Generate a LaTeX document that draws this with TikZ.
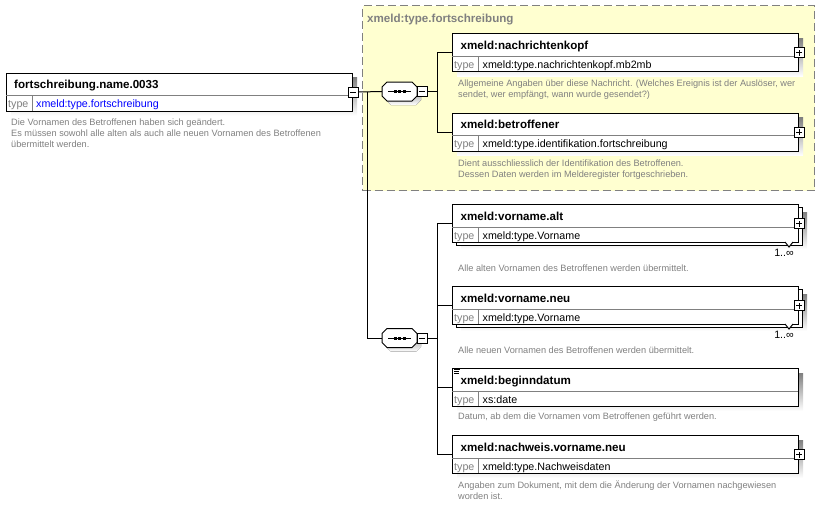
\documentclass[tikz,border=0pt]{standalone}
\usepackage{fontspec}
\setmainfont{Liberation Sans}
\usetikzlibrary{calc}
\definecolor{grpfill}{RGB}{255,255,208}
\definecolor{grpline}{RGB}{128,128,128}
\definecolor{shade}{RGB}{192,192,192}
\definecolor{desc}{RGB}{128,128,128}
\definecolor{typeblue}{RGB}{0,0,255}
\tikzset{
  elem/.style={draw=black, fill=white, line width=1pt, rectangle, minimum width=346pt, minimum height=38pt, inner sep=0pt, anchor=north west},
  group/.style={draw=grpline, fill=grpfill, line width=1pt, dash pattern=on 8pt off 4pt, rectangle, minimum width=452pt, minimum height=185pt, inner sep=0pt, anchor=north west},
  titletext/.style={font=\fontsize{11.6}{13}\selectfont\bfseries, anchor=base west, inner sep=0pt},
  grptitle/.style={font=\fontsize{11.6}{13}\selectfont\bfseries, text=grpline, anchor=base west, inner sep=0pt},
  typetext/.style={font=\fontsize{10.7}{12}\selectfont, anchor=base west, inner sep=0pt},
  typelabel/.style={font=\fontsize{10.7}{12}\selectfont, text=grpline, anchor=base west, inner sep=0pt},
  occtext/.style={font=\fontsize{10.7}{12}\selectfont, anchor=base east, inner sep=0pt},
  desctext/.style={font=\fontsize{9.2}{11}\selectfont, text=desc, anchor=base west, inner sep=0pt},
  pmbox/.style={draw=black, fill=white, line width=1pt, minimum size=10pt, inner sep=0pt, rectangle},
  conn/.style={line width=1pt, draw=black},
  seqbox/.style={rectangle, minimum width=35pt, minimum height=19pt, inner sep=0pt},
  divider/.style={draw=grpline, line width=1pt},
}
% plus / minus symbol boxes
\newcommand\pmplus[2]{%
  \node[pmbox] (#1) at (#2) {};
  \draw[line width=1pt] ([xshift=-3pt]#1.center) -- ([xshift=3pt]#1.center);
  \draw[line width=1pt] ([yshift=-3pt]#1.center) -- ([yshift=3pt]#1.center);
}
\newcommand\pmminus[2]{%
  \node[pmbox] (#1) at (#2) {};
  \draw[line width=1pt] ([xshift=-3pt]#1.center) -- ([xshift=3pt]#1.center);
}
% element box: name, x, ytop, title, type
\newcommand\elboxnoshadow[5]{%
  \node[elem] (#1) at (#2,#3) {};
  \draw[divider] (#2,#3+23) -- (#2+346,#3+23);
  \draw[divider] (#2+26.5,#3+23) -- (#2+26.5,#3+38);
  \node[titletext] (#1-t) at (#2+8.5,#3+16) {#4};
  \node[typelabel] (#1-l) at (#2+2,#3+35) {type};
  \node[typetext] (#1-v) at (#2+30.5,#3+35) {#5};
}
\newcommand\elbox[5]{%
  \fill[shade] (#2+5,#3+5) rectangle (#2+351,#3+43);
  \elboxnoshadow{#1}{#2}{#3}{#4}{#5}%
}
% repeated element box
\newcommand\multibox[5]{%
  \fill[shade] (#2+9,#3+8) rectangle (#2+355,#3+45);
  \draw[line width=1pt, fill=white] (#2+4,#3+3) rectangle (#2+350,#3+41);
  \elboxnoshadow{#1}{#2}{#3}{#4}{#5}%
  \draw[line width=1pt, fill=white] (#2+333,#3+38) -- (#2+337,#3+43) -- (#2+341,#3+38);
  \node[occtext] (#1-o) at (#2+342,#3+52) {1..∞};
}
% sequence compositor: name, cx, cy
\newcommand\seqsym[3]{%
  \node[seqbox] (#1) at (#2,#3) {};
  \fill[shade] (#2-12.5+4,#3-9.5+4) -- (#2+12.5+4,#3-9.5+4) -- (#2+17.5+4,#3-4.5+4) -- (#2+17.5+4,#3+4.5+4) -- (#2+12.5+4,#3+9.5+4) -- (#2-12.5+4,#3+9.5+4) -- (#2-17.5+4,#3+4.5+4) -- (#2-17.5+4,#3-4.5+4) -- cycle;
  \draw[line width=1pt, fill=white] (#2-12.5,#3-9.5) -- (#2+12.5,#3-9.5) -- (#2+17.5,#3-4.5) -- (#2+17.5,#3+4.5) -- (#2+12.5,#3+9.5) -- (#2-12.5,#3+9.5) -- (#2-17.5,#3+4.5) -- (#2-17.5,#3-4.5) -- cycle;
  \draw[line width=1pt] (#2-11.5,#3) -- (#2+11.5,#3);
  \fill (#2-6,#3-1.5) rectangle (#2-3,#3+1.5);
  \fill (#2-1.5,#3-1.5) rectangle (#2+1.5,#3+1.5);
  \fill (#2+3,#3-1.5) rectangle (#2+6,#3+1.5);
  \pmminus{#1m}{#2+22.5,#3}
}
\begin{document}
\begin{tikzpicture}[x=1pt, y=-1pt]
\useasboundingbox (0,0) rectangle (836,507);

% group
\node[group] (grp) at (362,5) {};
\node[grptitle] (grpt) at (367,22.5) {xmeld:type.fortschreibung};

% root element
\fill[shade] (11,77.5) rectangle (357,115.5);
\node[elem] (root) at (6,72.5) {};
\draw[divider] (6,95.5) -- (352,95.5);
\draw[divider] (32.5,95.5) -- (32.5,110.5);
\node[titletext] (root-t) at (14,88.5) {fortschreibung.name.0033};
\node[typelabel] (root-l) at (8,107.5) {type};
\node[typetext, text=typeblue] (root-v) at (36,107.5) {xmeld:type.fortschreibung};
\pmminus{rootm}{root.east}
\node[desctext] (rd1) at (11,125) {Die Vornamen des Betroffenen haben sich geändert.};
\node[desctext] (rd2) at (11,136) {Es müssen sowohl alle alten als auch alle neuen Vornamen des Betroffenen};
\node[desctext] (rd3) at (11,147) {übermittelt werden.};

% sequences
\seqsym{seq1}{399.5}{91.5}
\seqsym{seq2}{399.5}{338}

% elements in group
\elbox{nk}{452}{33}{xmeld:nachrichtenkopf}{xmeld:type.nachrichtenkopf.mb2mb}
\pmplus{nkp}{nk.east}
\node[desctext] (nkd1) at (458,86.5) {Allgemeine Angaben über diese Nachricht. (Welches Ereignis ist der Auslöser, wer};
\node[desctext] (nkd2) at (458,97.5) {sendet, wer empfängt, wann wurde gesendet?)};

\elbox{bt}{452}{112.5}{xmeld:betroffener}{xmeld:type.identifikation.fortschreibung}
\pmplus{btp}{bt.east}
\node[desctext] (btd1) at (458,166) {Dient ausschliesslich der Identifikation des Betroffenen.};
\node[desctext] (btd2) at (458,177) {Dessen Daten werden im Melderegister fortgeschrieben.};

% second sequence elements
\multibox{va}{452}{204}{xmeld:vorname.alt}{xmeld:type.Vorname}
\pmplus{vap}{va.east}
\node[desctext] (vad) at (458,271) {Alle alten Vornamen des Betroffenen werden übermittelt.};

\multibox{vn}{452}{286}{xmeld:vorname.neu}{xmeld:type.Vorname}
\pmplus{vnp}{vn.east}
\node[desctext] (vnd) at (458,353) {Alle neuen Vornamen des Betroffenen werden übermittelt.};

\elbox{bd}{452}{368}{xmeld:beginndatum}{xs:date}
\draw[line width=0.8pt] (454,369.5) -- (459.5,369.5);
\draw[line width=0.8pt] (454,371.3) -- (459,371.3);
\draw[line width=0.8pt] (454,373.1) -- (459,373.1);
\node[desctext] (bdd) at (458,419.5) {Datum, ab dem die Vornamen vom Betroffenen geführt werden.};

\elbox{nw}{452}{435}{xmeld:nachweis.vorname.neu}{xmeld:type.Nachweisdaten}
\pmplus{nwp}{nw.east}
\node[desctext] (nwd1) at (458,488.5) {Angaben zum Dokument, mit dem die Änderung der Vornamen nachgewiesen};
\node[desctext] (nwd2) at (458,499.5) {worden ist.};

% connectors
\coordinate (j1) at (367,91.5);
\coordinate (f1) at (437,91.5);
\coordinate (f2) at (437,338);
\draw[conn] (rootm.east) -- (seq1.west);
\draw[conn] (j1) |- (seq2.west);
\draw[conn] (seq1m.east) -- (f1);
\draw[conn] (f1) |- (nk.west);
\draw[conn] (f1) |- (bt.west);
\draw[conn] (seq2m.east) -- (f2);
\draw[conn] (f2) |- (va.west);
\draw[conn] (f2) |- (vn.west);
\draw[conn] (f2) |- (bd.west);
\draw[conn] (f2) |- (nw.west);
\end{tikzpicture}
\end{document}
